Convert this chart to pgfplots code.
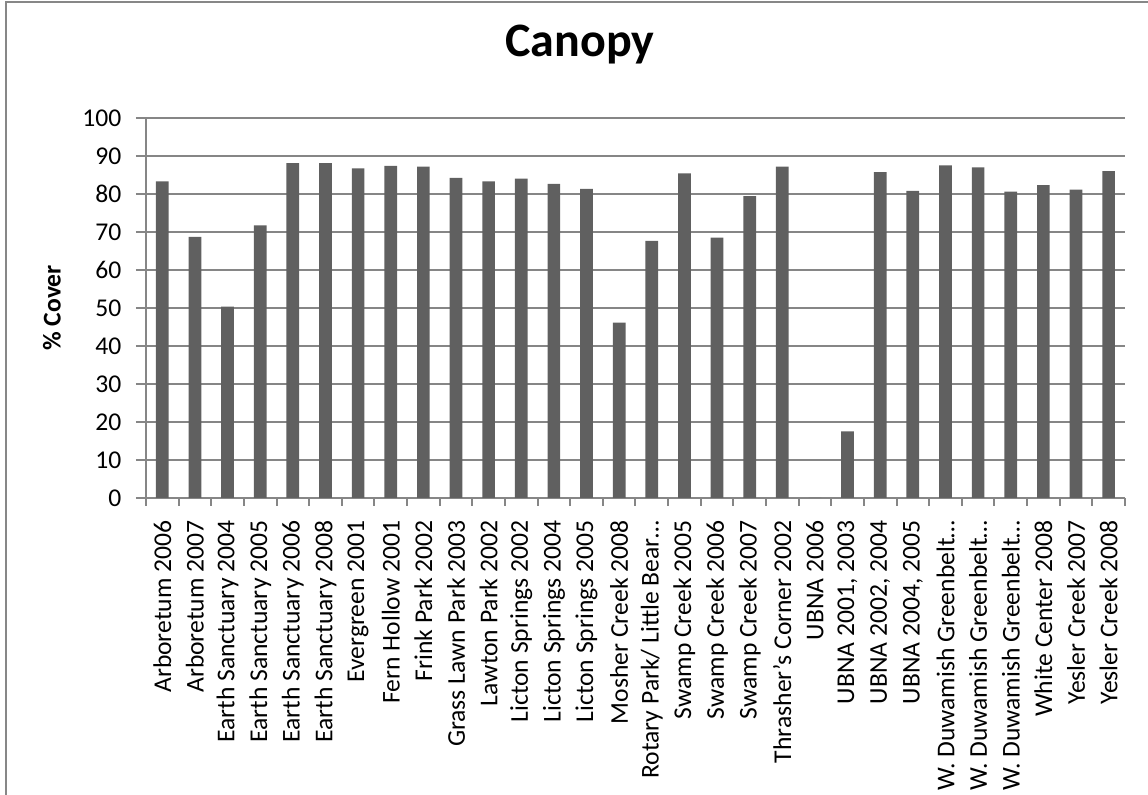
\documentclass[border=0pt]{standalone}
\usepackage{pgfplots}
\pgfplotsset{compat=1.18}
\usepackage{fontspec}
\setmainfont{Carlito}
\definecolor{barcol}{RGB}{96,96,96}
\definecolor{gridcol}{RGB}{134,134,134}
\definecolor{bordercol}{RGB}{135,135,135}
\begin{document}
\begin{tikzpicture}
\useasboundingbox (0pt,0pt) rectangle (430.5pt,298.1pt);
\draw[bordercol, line width=0.75pt] (2.25pt,0pt) -- (2.25pt,297.4pt) -- (430.5pt,297.4pt);
\begin{axis}[
  at={(54.75pt,111.4pt)}, anchor=south west,
  scale only axis, width=367.1pt, height=142.5pt,
  ybar, bar width=4.76pt,
  xmin=-0.5, xmax=29.5, ymin=0, ymax=100,
  ytick={0,10,...,100},
  xtick={0,...,29},
  minor xtick={-0.5,0.5,...,29.5},
  xticklabels={{Arboretum 2006},{Arboretum 2007},{Earth Sanctuary 2004},{Earth Sanctuary 2005},{Earth Sanctuary 2006},{Earth Sanctuary 2008},{Evergreen 2001},{Fern Hollow 2001},{Frink Park 2002},{Grass Lawn Park 2003},{Lawton Park 2002},{Licton Springs 2002},{Licton Springs 2004},{Licton Springs 2005},{Mosher Creek 2008},{Rotary Park/ Little Bear…},{Swamp Creek 2005},{Swamp Creek 2006},{Swamp Creek 2007},{Thrasher's Corner 2002},{UBNA 2006},{UBNA 2001, 2003},{UBNA 2002, 2004},{UBNA 2004, 2005},{W. Duwamish Greenbelt…},{W. Duwamish Greenbelt…},{W. Duwamish Greenbelt…},{White Center 2008},{Yesler Creek 2007},{Yesler Creek 2008}},
  axis x line*=bottom, axis y line*=left,
  axis line style={-, draw=gridcol, line width=0.75pt},
  tick align=outside,
  major tick length=3.75pt, minor tick length=3pt,
  major x tick style={draw=none},
  minor x tick style={draw=gridcol, line width=0.75pt},
  major y tick style={draw=gridcol, line width=0.75pt},
  ymajorgrids, major grid style={draw=gridcol, line width=0.75pt},
  /pgf/number format/assume math mode=true,
  tick label style={font=\fontsize{9.6}{11.5}\selectfont, text=black},
  xticklabel style={yshift=-4.6pt, rotate=90, anchor=east, inner sep=0pt},
  yticklabel style={anchor=east, inner sep=0pt, xshift=-5.3pt},
  ylabel={\% Cover},
  ylabel style={at={(axis description cs:-0.096,0.5)}, anchor=center, font=\fontsize{9.6}{11.5}\selectfont\bfseries},
  title={Canopy},
  title style={at={(axis description cs:0.4433,1.1207)}, anchor=base, font=\fontsize{18}{21}\selectfont\bfseries},
]
\addplot[fill=barcol, draw=none] coordinates {
(0,83.3) (1,68.7) (2,50.3) (3,71.7) (4,88.1) (5,88.1) (6,86.7) (7,87.4) (8,87.2) (9,84.2)
(10,83.3) (11,84.0) (12,82.6) (13,81.3) (14,46.1) (15,67.6) (16,85.4) (17,68.5) (18,79.4) (19,87.2)
(20,0) (21,17.5) (22,85.7) (23,80.8) (24,87.5) (25,87.0) (26,80.6) (27,82.3) (28,81.1) (29,86.0)
};
\end{axis}
\end{tikzpicture}
\end{document}
